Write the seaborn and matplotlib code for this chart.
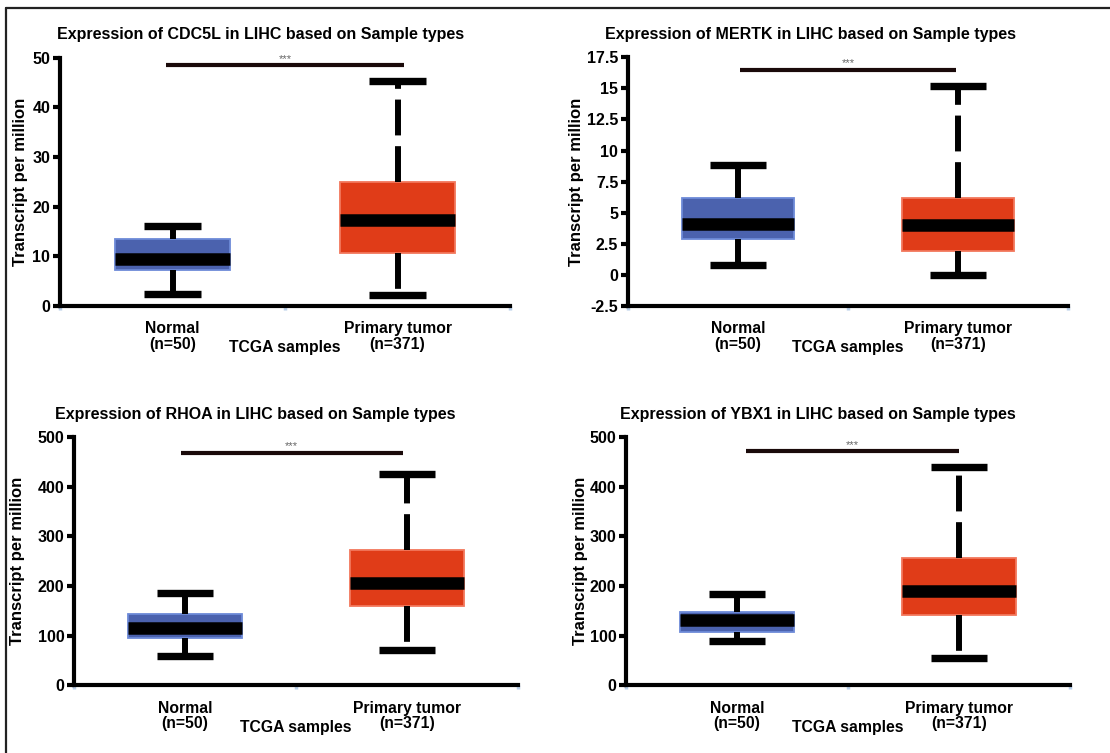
import numpy as np
import pandas as pd
import matplotlib
matplotlib.use("Agg")
import matplotlib.pyplot as plt
import seaborn as sns
from matplotlib.lines import Line2D

# ---------------- data ----------------
genes = ["CDC5L", "MERTK", "RHOA", "YBX1"]
groups = ["Normal", "Primary tumor"]
group_labels = ["Normal\n(n=50)", "Primary tumor\n(n=371)"]

# five-number summaries: min, q1, median, q3, max
cdc5l_normal = [2.5, 7.3, 9.5, 13.5, 16.0]
cdc5l_tumor = [2.2, 10.6, 17.3, 25.0, 45.2]
mertk_normal = [0.8, 2.9, 4.1, 6.2, 8.8]
mertk_tumor = [0.0, 1.9, 4.0, 6.2, 15.2]
rhoa_normal = [59, 96, 116, 143, 185]
rhoa_tumor = [71, 160, 207, 272, 425]
ybx1_normal = [90, 107, 131, 148, 183]
ybx1_tumor = [54, 142, 190, 257, 440]

sig_levels = [48.4, 16.5, 468, 471]
sig_start = [-0.03, 0.01, -0.02, 0.04]
sig_end = [1.03, 0.99, 0.98, 1.0]
sig_text = "***"

y_limits = [(0, 50), (-2.5, 17.5), (0, 500), (0, 500)]
y_ticks = [[0, 10, 20, 30, 40, 50],
           [-2.5, 0, 2.5, 5, 7.5, 10, 12.5, 15, 17.5],
           [0, 100, 200, 300, 400, 500],
           [0, 100, 200, 300, 400, 500]]
y_ticklabels = [["0", "10", "20", "30", "40", "50"],
                ["-2.5", "0", "2.5", "5", "7.5", "10", "12.5", "15", "17.5"],
                ["0", "100", "200", "300", "400", "500"],
                ["0", "100", "200", "300", "400", "500"]]
y_label = "Transcript per million"
x_label = "TCGA samples"

summaries = {
    "CDC5L": (cdc5l_normal, cdc5l_tumor),
    "MERTK": (mertk_normal, mertk_tumor),
    "RHOA": (rhoa_normal, rhoa_tumor),
    "YBX1": (ybx1_normal, ybx1_tumor),
}
rows = []
for g in genes:
    for grp, vals in zip(groups, summaries[g]):
        for v in vals:
            rows.append({"gene": g, "group": grp, "value": v})
df = pd.DataFrame(rows)

# ---------------- style ----------------
sns.set_style("ticks")
plt.rcParams["font.family"] = ["Liberation Sans", "DejaVu Sans"]
plt.rcParams["font.weight"] = "bold"
plt.rcParams["text.color"] = "black"
plt.rcParams["axes.labelcolor"] = "black"
plt.rcParams["xtick.labelcolor"] = "black"
plt.rcParams["ytick.labelcolor"] = "black"

W, H = 1110, 753
fig = plt.figure(figsize=(W / 100, H / 100), dpi=100)

# axes rectangles in pixels: left, right, top, bottom
rects = [(60, 510, 57.5, 306), (628, 1068, 57.3, 306),
         (74, 518, 437, 685.3), (626, 1070, 437, 685.3)]
title_x = [0.445, 0.414, 0.408, 0.432]
ylabel_x = [-0.072, -0.10, -0.11, -0.085]

palette = {"Normal": "#4b62ae", "Primary tumor": "#e03c18"}
edge_cols = ["#6d8ad8", "#f2775c"]

for i, g in enumerate(genes):
    l, r, t, b = rects[i]
    ax = fig.add_axes([l / W, 1 - b / H, (r - l) / W, (b - t) / H])
    sub = df[df["gene"] == g]
    sns.boxplot(data=sub, x="group", y="value", hue="group", order=groups,
                hue_order=groups, palette=palette, legend=False,
                whis=(0, 100), width=0.51, fliersize=0, saturation=1,
                linecolor="black", ax=ax,
                whiskerprops=dict(linewidth=4.3, linestyle=(0, (6, 1.8)),
                                  dash_capstyle="butt"),
                capprops=dict(linewidth=5.3, solid_capstyle="butt"),
                medianprops=dict(linewidth=9.0, solid_capstyle="butt"),
                boxprops=dict(linewidth=1.3))
    for p, ec in zip(ax.patches, edge_cols):
        p.set_edgecolor(ec)

    ax.set_xlim(-0.5, 1.5)
    ax.set_ylim(*y_limits[i])
    ax.set_yticks(y_ticks[i])
    ax.set_yticklabels(y_ticklabels[i], fontsize=11.5, fontweight="bold")
    ax.set_xticks([0, 1])
    ax.set_xticklabels(group_labels, fontsize=11.3, fontweight="bold",
                       linespacing=1.05)
    ax.set_xticks([-0.5, 0.5, 1.5], minor=True)
    ax.tick_params(axis="x", which="major", length=0, pad=11)
    ax.tick_params(axis="x", which="minor", length=3, width=2.5,
                   color="#b9cfe9", direction="out")
    ax.tick_params(axis="y", which="major", length=5, width=3, pad=2,
                   color="black")

    sns.despine(ax=ax)
    for s in ["left", "bottom"]:
        ax.spines[s].set_linewidth(3)
        ax.spines[s].set_color("black")

    ax.set_title(f"Expression of {g} in LIHC based on Sample types",
                 fontsize=11.5, fontweight="bold", x=title_x[i], pad=13,
                 color="black")
    ax.set_ylabel(y_label, fontsize=12, fontweight="bold", color="black")
    ax.yaxis.set_label_coords(ylabel_x[i], 0.5)
    ax.set_xlabel(x_label, fontsize=11.3, fontweight="bold", color="black")
    ax.xaxis.set_label_coords(0.5, -0.138)

    # significance bar
    ax.plot([sig_start[i], sig_end[i]], [sig_levels[i], sig_levels[i]],
            color="#1a0a0a", linewidth=3, solid_capstyle="butt", clip_on=False)
    ax.annotate(sig_text, xy=((sig_start[i] + sig_end[i]) / 2, sig_levels[i]),
                xytext=(0, 1), textcoords="offset points", ha="center",
                va="bottom", fontsize=8, color="#666666", fontweight="normal",
                annotation_clip=False)

# figure frame lines (left and top)
fig.add_artist(Line2D([5.5 / W, 5.5 / W], [0, 1 - 8 / H], color="#222222",
                      linewidth=1.6, transform=fig.transFigure))
fig.add_artist(Line2D([5.5 / W, 1], [1 - 8 / H, 1 - 8 / H], color="#222222",
                      linewidth=1.6, transform=fig.transFigure))

fig.savefig("out.png", dpi=100, facecolor="white")
